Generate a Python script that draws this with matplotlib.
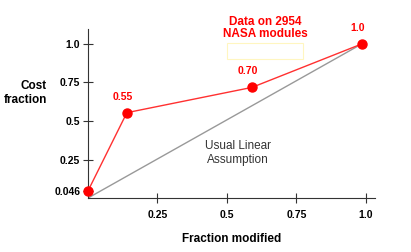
## Cost fraction vs fraction modified (NASA modules)
import numpy as np
import matplotlib.pyplot as plt
from matplotlib.patches import Rectangle

plt.rcParams['font.family'] = ['Liberation Sans', 'DejaVu Sans']

## DATA
frac_modified = [0.0, 0.14, 0.59, 0.985]
cost_fraction = [0.046, 0.554, 0.718, 1.0]
point_labels = ['', '0.55', '0.70', '1.0']
linear_x = [0.0, 0.985]
linear_y = [0.0, 1.0]
x_ticks = [0.25, 0.5, 0.75, 1.0]
x_tick_labels = ['0.25', '0.5', '0.75', '1.0']
y_ticks = [0.046, 0.25, 0.5, 0.75, 1.0]
y_tick_labels = ['0.046', '0.25', '0.5', '0.75', '1.0']

## PLOT
fig = plt.figure(figsize=(4.11, 2.52), dpi=100)
ax = fig.add_axes([0.214, 0.214, 0.698, 0.671])

ax.plot(linear_x, linear_y, color='#999999', lw=1)
ax.plot(frac_modified, cost_fraction, color='#ff3030', lw=1,
        marker='o', markersize=6.5, markerfacecolor='#ff0000',
        markeredgecolor='#ff0000', clip_on=False, zorder=5)

# red value labels above the points
for x, y, s in zip(frac_modified, cost_fraction, point_labels):
    if s:
        ax.annotate(s, (x, y), xytext=(-3, 8), textcoords='offset points',
                    ha='center', va='bottom', color='#ff0000',
                    fontsize=7.5, fontweight='bold')

ax.set_xlim(0, 1.032)
ax.set_ylim(0, 1.097)
ax.set_xticks(x_ticks)
ax.set_xticklabels(x_tick_labels)
ax.set_yticks(y_ticks)
ax.set_yticklabels(y_tick_labels)
ax.tick_params(direction='inout', length=7, width=0.8, color='#333333',
               labelsize=7.5, pad=2)
for lab in ax.get_xticklabels() + ax.get_yticklabels():
    lab.set_fontweight('bold')
ax.tick_params(axis='x', pad=5)

for side in ['top', 'right']:
    ax.spines[side].set_visible(False)
for side in ['left', 'bottom']:
    ax.spines[side].set_color('#333333')
    ax.spines[side].set_linewidth(0.8)

# axis titles
fig.text(47 / 411, 1 - 93 / 252, 'Cost\nfraction', ha='right', va='center',
         fontsize=8.5, fontweight='bold', linespacing=1.2)
fig.text(232 / 411, 1 - 239 / 252, 'Fraction modified', ha='center',
         va='center', fontsize=8.5, fontweight='bold')

# notes
fig.text(265 / 411, 1 - 28 / 252, 'Data on 2954\nNASA modules', ha='center',
         va='center', color='#ff0000', fontsize=8.5, fontweight='bold',
         linespacing=1.1)
fig.patches.append(Rectangle((227 / 411, 1 - 59 / 252), 76 / 411, 16 / 252,
                             transform=fig.transFigure, fill=False,
                             edgecolor='#fff6c0', lw=0.8))
fig.text(238 / 411, 1 - 153 / 252, 'Usual Linear\nAssumption', ha='center',
         va='center', color='#333333', fontsize=8.5, linespacing=1.25)

plt.savefig('out.png', dpi=100)
